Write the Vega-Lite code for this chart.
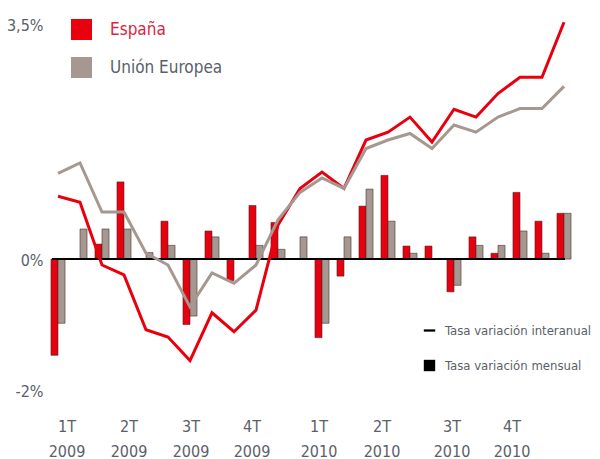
{
  "$schema": "https://vega.github.io/schema/vega-lite/v6.json",
  "width": 528,
  "height": 373,
  "autosize": {"type": "none"},
  "padding": {"left": 47, "top": 17, "right": 25, "bottom": 69},
  "background": "white",
  "config": {
    "view": {"stroke": null},
    "font": "DejaVu Sans Condensed, sans-serif"
  },
  "datasets": {
    "ipc": [
      {"m": "2009-01", "pais": "España", "mensual": -1.47, "interanual": 0.96},
      {"m": "2009-01", "pais": "Unión Europea", "mensual": -0.98, "interanual": 1.31},
      {"m": "2009-02", "pais": "España", "mensual": 0.0, "interanual": 0.87},
      {"m": "2009-02", "pais": "Unión Europea", "mensual": 0.46, "interanual": 1.47},
      {"m": "2009-03", "pais": "España", "mensual": 0.23, "interanual": -0.09},
      {"m": "2009-03", "pais": "Unión Europea", "mensual": 0.46, "interanual": 0.72},
      {"m": "2009-04", "pais": "España", "mensual": 1.18, "interanual": -0.24},
      {"m": "2009-04", "pais": "Unión Europea", "mensual": 0.46, "interanual": 0.72},
      {"m": "2009-05", "pais": "España", "mensual": 0.0, "interanual": -1.08},
      {"m": "2009-05", "pais": "Unión Europea", "mensual": 0.1, "interanual": 0.09},
      {"m": "2009-06", "pais": "España", "mensual": 0.58, "interanual": -1.19},
      {"m": "2009-06", "pais": "Unión Europea", "mensual": 0.21, "interanual": -0.09},
      {"m": "2009-07", "pais": "España", "mensual": -1.0, "interanual": -1.55},
      {"m": "2009-07", "pais": "Unión Europea", "mensual": -0.87, "interanual": -0.73},
      {"m": "2009-08", "pais": "España", "mensual": 0.43, "interanual": -0.82},
      {"m": "2009-08", "pais": "Unión Europea", "mensual": 0.34, "interanual": -0.21},
      {"m": "2009-09", "pais": "España", "mensual": -0.33, "interanual": -1.11},
      {"m": "2009-09", "pais": "Unión Europea", "mensual": 0.0, "interanual": -0.37},
      {"m": "2009-10", "pais": "España", "mensual": 0.82, "interanual": -0.78},
      {"m": "2009-10", "pais": "Unión Europea", "mensual": 0.21, "interanual": -0.09},
      {"m": "2009-11", "pais": "España", "mensual": 0.56, "interanual": 0.52},
      {"m": "2009-11", "pais": "Unión Europea", "mensual": 0.15, "interanual": 0.6},
      {"m": "2009-12", "pais": "España", "mensual": 0.0, "interanual": 1.08},
      {"m": "2009-12", "pais": "Unión Europea", "mensual": 0.34, "interanual": 1.02},
      {"m": "2010-01", "pais": "España", "mensual": -1.2, "interanual": 1.33},
      {"m": "2010-01", "pais": "Unión Europea", "mensual": -0.98, "interanual": 1.24},
      {"m": "2010-02", "pais": "España", "mensual": -0.26, "interanual": 1.08},
      {"m": "2010-02", "pais": "Unión Europea", "mensual": 0.34, "interanual": 1.08},
      {"m": "2010-03", "pais": "España", "mensual": 0.81, "interanual": 1.82},
      {"m": "2010-03", "pais": "Unión Europea", "mensual": 1.07, "interanual": 1.69},
      {"m": "2010-04", "pais": "España", "mensual": 1.28, "interanual": 1.94},
      {"m": "2010-04", "pais": "Unión Europea", "mensual": 0.58, "interanual": 1.82},
      {"m": "2010-05", "pais": "España", "mensual": 0.2, "interanual": 2.17},
      {"m": "2010-05", "pais": "Unión Europea", "mensual": 0.09, "interanual": 1.92},
      {"m": "2010-06", "pais": "España", "mensual": 0.2, "interanual": 1.79},
      {"m": "2010-06", "pais": "Unión Europea", "mensual": 0.0, "interanual": 1.69},
      {"m": "2010-07", "pais": "España", "mensual": -0.5, "interanual": 2.29},
      {"m": "2010-07", "pais": "Unión Europea", "mensual": -0.4, "interanual": 2.05},
      {"m": "2010-08", "pais": "España", "mensual": 0.34, "interanual": 2.17},
      {"m": "2010-08", "pais": "Unión Europea", "mensual": 0.21, "interanual": 1.94},
      {"m": "2010-09", "pais": "España", "mensual": 0.09, "interanual": 2.53},
      {"m": "2010-09", "pais": "Unión Europea", "mensual": 0.21, "interanual": 2.17},
      {"m": "2010-10", "pais": "España", "mensual": 1.02, "interanual": 2.78},
      {"m": "2010-10", "pais": "Unión Europea", "mensual": 0.43, "interanual": 2.3},
      {"m": "2010-11", "pais": "España", "mensual": 0.58, "interanual": 2.78},
      {"m": "2010-11", "pais": "Unión Europea", "mensual": 0.09, "interanual": 2.3},
      {"m": "2010-12", "pais": "España", "mensual": 0.7, "interanual": 3.62},
      {"m": "2010-12", "pais": "Unión Europea", "mensual": 0.7, "interanual": 2.64}
    ],
    "tipos": [
      {"tipo": "Tasa variación interanual"},
      {"tipo": "Tasa variación mensual"}
    ]
  },
  "encoding": {
    "x": {
      "field": "m",
      "type": "ordinal",
      "scale": {"paddingInner": 0.36, "paddingOuter": 0.18},
      "axis": {
        "title": null,
        "domain": false,
        "ticks": false,
        "labelAngle": 0,
        "values": ["2009-01", "2009-04", "2009-07", "2009-10", "2010-01", "2010-04", "2010-07", "2010-10"],
        "labelExpr": "[(floor((toNumber(substring(datum.value,5,7))-1)/3)+1) + 'T', substring(datum.value,0,4)]",
        "labelFontSize": 16,
        "labelColor": "#5a6068",
        "labelPadding": 36,
        "labelBaseline": "middle",
        "labelLineHeight": 25,
        "labelOffset": {
          "condition": [
            {"test": "datum.value == '2009-01'", "value": 9},
            {"test": "datum.value == '2009-04'", "value": 5},
            {"test": "datum.value == '2009-10'", "value": -4},
            {"test": "datum.value == '2010-01'", "value": -3},
            {"test": "datum.value == '2010-04'", "value": -6},
            {"test": "datum.value == '2010-07'", "value": -2},
            {"test": "datum.value == '2010-10'", "value": -8}
          ],
          "value": 1
        }
      }
    }
  },
  "layer": [
    {
      "data": {"name": "ipc"},
      "mark": {"type": "bar", "stroke": "#3a2a28", "strokeWidth": 0.8, "strokeOpacity": 0.7},
      "encoding": {
        "xOffset": {"field": "pais", "type": "nominal", "sort": ["España", "Unión Europea"]},
        "y": {
          "field": "mensual",
          "type": "quantitative",
          "scale": {"domain": [-2, 3.7], "nice": false, "zero": false},
          "axis": {
            "title": null,
            "domain": false,
            "ticks": false,
            "grid": false,
            "values": [-2, 0, 3.5],
            "labelExpr": "datum.value == 3.5 ? '3,5%' : datum.value + '%'",
            "labelFontSize": 16,
            "labelColor": "#5a6068",
            "labelPadding": 4,
            "labelOffset": {"condition": {"test": "datum.value == 3.5", "value": -5}, "value": 1}
          }
        },
        "color": {
          "field": "pais",
          "type": "nominal",
          "scale": {"domain": ["España", "Unión Europea"], "range": ["#e8000e", "#a69890"]},
          "legend": {
            "title": null,
            "orient": "none",
            "legendX": 24,
            "legendY": 2,
            "padding": 0,
            "symbolType": "square",
            "symbolSize": 441,
            "symbolStrokeWidth": 0,
            "labelFontSize": 17,
            "labelOffset": 18,
            "rowPadding": 17,
            "labelColor": {"expr": "datum.value == 'España' ? '#d9263f' : '#5a6068'"}
          }
        }
      }
    },
    {
      "data": {"name": "ipc"},
      "mark": {"type": "rule", "color": "black", "strokeWidth": 2},
      "encoding": {
        "x": {"datum": "2009-01", "bandPosition": 0.12},
        "x2": {"datum": "2010-12", "bandPosition": 0.55},
        "y": {"datum": 0, "type": "quantitative"}
      }
    },
    {
      "data": {"name": "ipc"},
      "mark": {"type": "line", "strokeWidth": 3},
      "encoding": {
        "y": {"field": "interanual", "type": "quantitative"},
        "color": {"field": "pais", "type": "nominal", "legend": null}
      }
    },
    {
      "data": {"name": "tipos"},
      "mark": {"type": "point", "filled": true, "size": 0, "opacity": 1, "color": "black"},
      "encoding": {
        "x": {"datum": "2009-01"},
        "y": {"datum": 0, "type": "quantitative"},
        "shape": {
          "field": "tipo",
          "type": "nominal",
          "scale": {
            "domain": ["Tasa variación interanual", "Tasa variación mensual"],
            "range": ["M-1,-0.2L1,-0.2L1,0.2L-1,0.2Z", "M-1,-1L1,-1L1,1L-1,1Z"]
          },
          "legend": {
            "title": null,
            "orient": "none",
            "legendX": 376,
            "legendY": 307,
            "padding": 0,
            "symbolSize": 130,
            "symbolOpacity": 1,
            "symbolFillColor": "black",
            "symbolStrokeColor": "black",
            "symbolStrokeWidth": 0,
            "labelFontSize": 13,
            "labelOffset": 9,
            "labelLimit": 300,
            "rowPadding": 21,
            "labelColor": "#5a6068"
          }
        }
      }
    }
  ]
}
